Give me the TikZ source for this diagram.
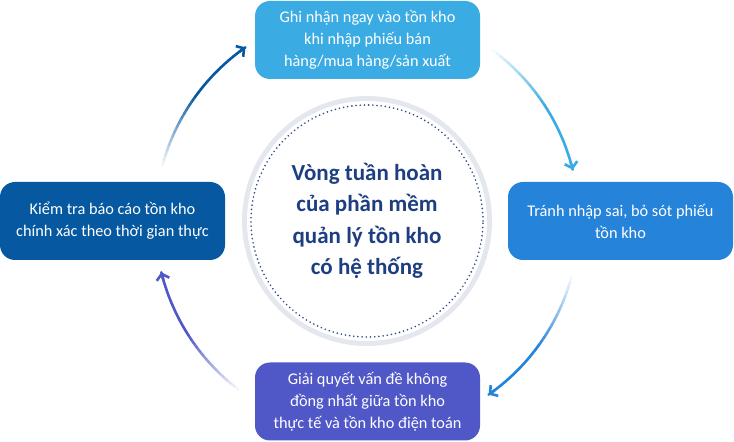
\documentclass[tikz,border=0pt]{standalone}
\usepackage{fontspec}
\setmainfont{Carlito}
\usetikzlibrary{arrows.meta,calc}
\definecolor{cTop}{RGB}{58,172,227}
\definecolor{cRight}{RGB}{38,131,218}
\definecolor{cLeft}{RGB}{6,88,160}
\definecolor{cBottom}{RGB}{80,88,200}
\definecolor{cNavy}{RGB}{30,62,130}
\definecolor{ringgray}{RGB}{228,232,238}
\definecolor{dotcol}{RGB}{42,72,140}
\begin{document}
\begin{tikzpicture}[x=1pt,y=1pt,
  stepbox/.style={rounded corners=15pt, minimum width=225pt, minimum height=78pt, text=white, align=center, font=\fontsize{16.3}{22}\selectfont, inner sep=0pt},
  cyclearrow/.style={line width=2.6pt, line cap=round}
  ]
\useasboundingbox (0,0) rectangle (734,442);
\coordinate (C) at (367,221);
% central ring
\fill[ringgray] (C) circle[radius=125];
\fill[white] (C) circle[radius=120];
\draw[dotcol, line width=1.8pt, line cap=round, dash pattern=on 0pt off 4.2pt] (C) circle[radius=116];
\node[font=\fontsize{23}{31.5}\selectfont\bfseries, text=cNavy, align=center] (center) at (C) {Vòng tuần hoàn\\của phần mềm\\quản lý tồn kho\\có hệ thống};
% boxes
\node[stepbox, fill=cTop] (top) at (367.5,402) {Ghi nhận ngay vào tồn kho\\khi nhập phiếu bán\\hàng/mua hàng/sản xuất};
\node[stepbox, fill=cRight] (right) at (620.5,221) {Tránh nhập sai, bỏ sót phiếu\\tồn kho};
\node[stepbox, fill=cLeft] (left) at (112.5,221) {Kiểm tra báo cáo tồn kho\\chính xác theo thời gian thực};
\node[stepbox, fill=cBottom] (bottom) at (367.5,40.5) {Giải quyết vấn đề không\\đồng nhất giữa tồn kho\\thực tế và tồn kho điện toán};
% arrows with fading
\foreach \a/\b/\c in {166/125/cLeft, 55/14/cTop, -14/-55/cRight, -126/-166/cBottom} {
  \foreach \i in {0,...,29} {
    \pgfmathsetmacro\sa{\a+(\b-\a)*\i/30}
    \pgfmathsetmacro\ea{\a+(\b-\a)*(\i+1)/30}
    \pgfmathsetmacro\p{min(100,\i*100/16)}
    \draw[cyclearrow, \c!\p!white] ($(C)+(\sa:212)$) arc[start angle=\sa, end angle=\ea, radius=212];
  }
  \pgfmathsetmacro\sb{\b-(\b-\a)*0.05}
  \draw[cyclearrow, \c, -{Straight Barb[length=5.5pt,width=13pt]}] ($(C)+(\sb:212)$) arc[start angle=\sb, end angle=\b, radius=212];
}
\end{tikzpicture}
\end{document}
